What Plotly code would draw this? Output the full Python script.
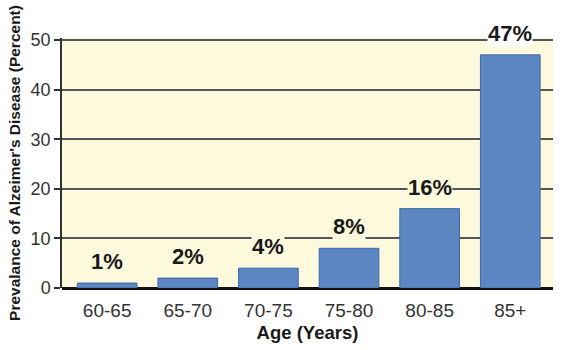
import plotly.graph_objects as go

age_groups = ["60-65", "65-70", "70-75", "75-80", "80-85", "85+"]
prevalence = [1, 2, 4, 8, 16, 47]
labels = ["1%", "2%", "4%", "8%", "16%", "47%"]
y_ticks = [0, 10, 20, 30, 40, 50]

PLOT_BG = "#fdf9dd"
FONT = "Liberation Sans, Arial, sans-serif"
Y_MAX = 50.4

fig = go.Figure()
fig.add_trace(go.Bar(
    x=age_groups, y=prevalence, width=0.74,
    marker=dict(color="#5c87c2", line=dict(color="#3f68a8", width=1)),
    hoverinfo="skip",
))

for a, v, t in zip(age_groups, prevalence, labels):
    fig.add_annotation(x=a, y=v, text=f"<b>{t}</b>", showarrow=False,
                       yanchor="bottom", yshift=8,
                       font=dict(family=FONT, size=22, color="#1a1a1a"),
                       bgcolor="white" if v > Y_MAX - 6 else PLOT_BG, borderpad=0)

fig.update_layout(
    width=569, height=350,
    margin=dict(l=62, r=16, t=38, b=62),
    paper_bgcolor="white", plot_bgcolor=PLOT_BG,
    showlegend=False,
    font=dict(family=FONT, color="#333333"),
    xaxis=dict(range=[-0.56, 5.53], tickfont=dict(size=19, color="#333333"),
               showgrid=False, ticks="", showline=False, ticklabelstandoff=9,
               automargin=False,
               title=dict(text="<b>Age (Years)</b>", font=dict(size=18.5, color="#1a1a1a"), standoff=6)),
    yaxis=dict(range=[0, Y_MAX], tickvals=y_ticks, tickfont=dict(size=18, color="#333333"),
               showgrid=True, gridcolor="#555555", gridwidth=1.5,
               zeroline=True, zerolinecolor="#111111", zerolinewidth=2.5,
               showline=True, linecolor="#333333", linewidth=1.5,
               ticks="outside", ticklen=6, tickcolor="#333333", tickwidth=1.5,
               automargin=False,
               title=dict(text="<b>Prevalance of Alzeimer's Disease (Percent)</b>",
                          font=dict(size=15.5, color="#1a1a1a"), standoff=6)),
)

fig.write_html("out.html")
